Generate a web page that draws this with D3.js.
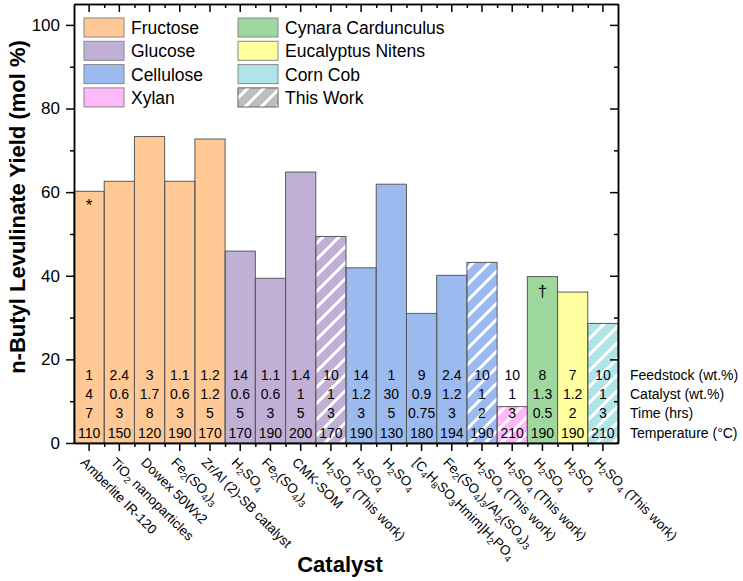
<!DOCTYPE html>
<html>
<head>
<meta charset="utf-8">
<script src="https://cdn.jsdelivr.net/npm/d3@7"></script>
<style>
  body { margin: 0; background: #fff; }
  svg { font-family: "Liberation Sans", Arial, sans-serif; }
  .axis path, .axis line { stroke: #000; stroke-width: 1.5; }
  .axis text { font-size: 17px; fill: #000; }
</style>
</head>
<body>
<svg id="chart" width="743" height="581"></svg>
<script>
// bar labels ("_n" = subscript)
var catalysts = ["Amberlite IR-120", "TiO_2 nanoparticles", "Dowex 50Wx2", "Fe_2(SO_4)_3",
                 "Zr/Al (2)-SB catalyst", "H_2SO_4", "Fe_2(SO_4)_3", "CMK-SOM",
                 "H_2SO_4 (This work)", "H_2SO_4", "H_2SO_4", "[C_4H_8SO_3Hmim]H_2PO_4",
                 "Fe_2(SO_4)_3/Al_2(SO_4)_3", "H_2SO_4 (This work)", "H_2SO_4 (This work)",
                 "H_2SO_4", "H_2SO_4", "H_2SO_4 (This work)"];
var feedType = ["Fructose", "Fructose", "Fructose", "Fructose", "Fructose",
                "Glucose", "Glucose", "Glucose", "Glucose",
                "Cellulose", "Cellulose", "Cellulose", "Cellulose", "Cellulose",
                "Xylan", "Cynara Cardunculus", "Eucalyptus Nitens", "Corn Cob"];
var thisWork = [false, false, false, false, false, false, false, false, true,
                false, false, false, false, true, true, false, false, true];
var yieldVals = [60.2, 62.6, 73.3, 62.6, 72.7, 45.9, 39.4, 64.8, 49.4,
                 41.9, 61.9, 31.0, 40.1, 43.2, 8.7, 39.8, 36.1, 28.6];
var feedLoad  = [1, 2.4, 3, 1.1, 1.2, 14, 1.1, 1.4, 10, 14, 1, 9, 2.4, 10, 10, 8, 7, 10];
var catLoad   = [4, 0.6, 1.7, 0.6, 1.2, 0.6, 0.6, 1, 1, 1.2, 30, 0.9, 1.2, 1, 1, 1.3, 1.2, 1];
var timeHrs   = [7, 3, 8, 3, 5, 5, 3, 5, 3, 3, 5, 0.75, 3, 2, 3, 0.5, 2, 3];
var tempC     = [110, 150, 120, 190, 170, 170, 190, 200, 170, 190, 130, 180, 194, 190, 210, 190, 190, 210];
var rowLabels = ["Feedstock (wt.%)", "Catalyst (wt.%)", "Time (hrs)", "Temperature (\u00B0C)"];
var marks = [{i: 0, t: "*"}, {i: 15, t: "\u2020"}];

var legendKeys = ["Fructose", "Glucose", "Cellulose", "Xylan",
                  "Cynara Cardunculus", "Eucalyptus Nitens", "Corn Cob", "This Work"];
var colors = {
  "Fructose": "#FFC895", "Glucose": "#C0B0D6", "Cellulose": "#9BBAF0", "Xylan": "#FFB8F8",
  "Cynara Cardunculus": "#9ED89E", "Eucalyptus Nitens": "#FFFFA0", "Corn Cob": "#B0E4E8",
  "This Work": "#BDBDBD"
};

var plotL = 74, plotR = 618, plotT = 4, plotB = 443;
var svg = d3.select("#chart");

var defs = svg.append("defs");
defs.append("pattern")
    .attr("id", "hatch")
    .attr("patternUnits", "userSpaceOnUse")
    .attr("width", 16).attr("height", 16)
  .append("path")
    .attr("d", "M-4,4 L4,-4 M0,16 L16,0 M12,20 L20,12")
    .attr("stroke", "#fff")
    .attr("stroke-width", 3);

var idx = d3.range(catalysts.length);
var x = d3.scaleBand().domain(idx).range([plotL, plotR]).padding(0);
var xLin = d3.scaleLinear().domain([0, catalysts.length]).range([plotL, plotR]);
var y = d3.scaleLinear().domain([0, 105]).range([plotB, plotT]);

// bars
var bars = svg.append("g");
bars.selectAll("rect.bar").data(idx).enter().append("rect")
    .attr("class", "bar")
    .attr("x", d => x(d)).attr("width", x.bandwidth())
    .attr("y", d => y(yieldVals[d])).attr("height", d => y(0) - y(yieldVals[d]))
    .attr("fill", d => colors[feedType[d]]);
bars.selectAll("rect.hatch").data(idx.filter(d => thisWork[d])).enter().append("rect")
    .attr("class", "hatch")
    .attr("x", d => x(d)).attr("width", x.bandwidth())
    .attr("y", d => y(yieldVals[d])).attr("height", d => y(0) - y(yieldVals[d]))
    .attr("fill", "url(#hatch)");
bars.selectAll("rect.edge").data(idx).enter().append("rect")
    .attr("class", "edge")
    .attr("x", d => x(d)).attr("width", x.bandwidth())
    .attr("y", d => y(yieldVals[d])).attr("height", d => y(0) - y(yieldVals[d]))
    .attr("fill", "none").attr("stroke", "#5a5a5a").attr("stroke-width", 1);

// annotations on bars
svg.selectAll("text.mark").data(marks).enter().append("text")
    .attr("x", d => x(d.i) + x.bandwidth() / 2)
    .attr("y", d => y(yieldVals[d.i]) + 20)
    .attr("text-anchor", "middle")
    .style("font-size", "17px")
    .text(d => d.t);

// condition table
var rows = [feedLoad, catLoad, timeHrs, tempC];
var rowY = [379.5, 398.5, 418, 438];
rows.forEach(function(vals, r) {
  svg.append("g").selectAll("text").data(idx).enter().append("text")
      .attr("x", d => x(d) + x.bandwidth() / 2)
      .attr("y", rowY[r])
      .attr("text-anchor", "middle")
      .style("font-size", "14px")
      .text(d => String(vals[d]));
  svg.append("text")
      .attr("x", 630).attr("y", rowY[r])
      .style("font-size", "14px")
      .text(rowLabels[r]);
});

// axes
svg.append("g").attr("class", "axis")
    .attr("transform", "translate(" + plotL + ",0)")
    .call(d3.axisLeft(y).tickValues([0, 20, 40, 60, 80, 100]).tickSize(8).tickSizeOuter(0).tickPadding(6));
svg.append("g").attr("class", "axis")
    .attr("transform", "translate(" + plotL + ",0)")
    .call(d3.axisLeft(y).tickValues([10, 30, 50, 70, 90]).tickSize(4).tickSizeOuter(0).tickFormat(""));
svg.append("g").attr("class", "axis")
    .attr("transform", "translate(" + plotR + ",0)")
    .call(d3.axisRight(y).tickValues([20, 40, 60, 80, 100]).tickSize(-8).tickSizeOuter(0).tickFormat(""));
svg.append("g").attr("class", "axis")
    .attr("transform", "translate(" + plotR + ",0)")
    .call(d3.axisRight(y).tickValues([10, 30, 50, 70, 90]).tickSize(-4).tickSizeOuter(0).tickFormat(""));
svg.append("g").attr("class", "axis")
    .attr("transform", "translate(0," + plotB + ")")
    .call(d3.axisBottom(x).tickSize(8).tickSizeOuter(0).tickFormat(""));
svg.append("g").attr("class", "axis")
    .attr("transform", "translate(0," + plotB + ")")
    .call(d3.axisBottom(xLin).tickValues(d3.range(1, catalysts.length)).tickSize(4).tickSizeOuter(0).tickFormat(""));
svg.append("g").attr("class", "axis")
    .attr("transform", "translate(0," + plotT + ")")
    .call(d3.axisTop(x).tickSize(-8).tickSizeOuter(0).tickFormat(""));
svg.append("g").attr("class", "axis")
    .attr("transform", "translate(0," + plotT + ")")
    .call(d3.axisTop(xLin).tickValues(d3.range(1, catalysts.length)).tickSize(-4).tickSizeOuter(0).tickFormat(""));

// rotated catalyst labels with subscripts
idx.forEach(function(d) {
  var t = svg.append("text")
      .attr("transform", "translate(" + (x(d) + x.bandwidth() / 2 - 6) + ",460) rotate(45)")
      .attr("dy", "0.35em")
      .style("font-size", "13.5px");
  var parts = catalysts[d].split(/_(\d)/);
  var shifted = false;
  parts.forEach(function(p, k) {
    if (p === "") return;
    var sub = k % 2 === 1;
    var ts = t.append("tspan").text(p);
    if (sub) { ts.style("font-size", "9.5px").attr("dy", shifted ? 0 : 3); shifted = true; }
    else if (shifted) { ts.attr("dy", -3); shifted = false; }
  });
});

// axis titles
svg.append("text")
    .attr("transform", "rotate(-90)")
    .attr("x", -207).attr("y", 25)
    .attr("text-anchor", "middle")
    .style("font-size", "22px").style("font-weight", "bold")
    .text("n-Butyl Levulinate Yield (mol %)");
svg.append("text")
    .attr("x", 340).attr("y", 572)
    .attr("text-anchor", "middle")
    .style("font-size", "22px").style("font-weight", "bold")
    .text("Catalyst");

// legend
var lg = svg.append("g");
legendKeys.forEach(function(k, i) {
  var gx = i < 4 ? 84 : 238, gy = 18 + (i % 4) * 23.3;
  lg.append("rect").attr("x", gx).attr("y", gy).attr("width", 40).attr("height", 19)
      .attr("fill", colors[k]).attr("stroke", "#888");
  if (k === "This Work") {
    lg.append("rect").attr("x", gx).attr("y", gy).attr("width", 40).attr("height", 19)
        .attr("fill", "url(#hatch)").attr("stroke", "#888");
  }
  lg.append("text").attr("x", gx + 47).attr("y", gy + 16)
      .style("font-size", "17.5px").text(k);
});
</script>
</body>
</html>
